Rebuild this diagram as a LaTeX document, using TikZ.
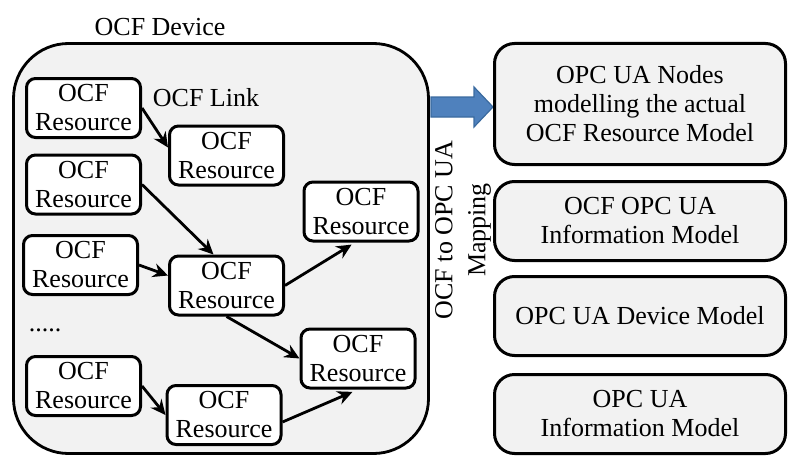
\documentclass[tikz,border=0pt]{standalone}
\usepackage{fontspec}
\setmainfont{Liberation Serif}
\usetikzlibrary{arrows.meta}
\definecolor{boxgray}{HTML}{F2F2F2}
\definecolor{mapblue}{HTML}{4F81BD}
\definecolor{mapedge}{HTML}{3A6A9F}
\tikzset{
	res/.style={draw, line width=3pt, rounded corners=9pt, fill=white,
		minimum width=114pt, minimum height=59pt, inner sep=0pt, align=center},
	uabox/.style={draw, line width=3pt, rounded corners=20pt, fill=boxgray,
		minimum width=291pt, minimum height=79pt, inner sep=0pt, align=center},
	link/.style={line width=2.8pt, -{Stealth[length=15pt,width=14pt,inset=5pt]}}
}
\begin{document}
\begin{tikzpicture}[x=1pt,y=-1pt,font=\fontsize{26}{29}\selectfont]
			\useasboundingbox (0,0) rectangle (805,460);
			% the OCF device
			\node[draw, line width=2.8pt, rounded corners=55pt, fill=boxgray,
				minimum width=415pt, minimum height=410pt] (dev) at (221,248.5) {};
			\node (devlabel) at (160,27) {OCF Device};
			\node (linklabel) at (206,98) {OCF Link};
			% resources
			\node[res] (resA) at (83.5,108) {OCF\\Resource};
			\node[res] (resB) at (226.5,155.5) {OCF\\Resource};
			\node[res] (resC) at (83.5,184.5) {OCF\\Resource};
			\node[res] (resD) at (361,211.5) {OCF\\Resource};
			\node[res] (resE) at (80.5,265) {OCF\\Resource};
			\node[res] (resF) at (226.5,285.5) {OCF\\Resource};
			\node[res] (resG) at (358,358.5) {OCF\\Resource};
			\node[res] (resH) at (83.5,386) {OCF\\Resource};
			\node[res] (resI) at (224,415) {OCF\\Resource};
			\node (dots) at (45,330) {.....};
			% links
			\draw[link] (resA.east) -- ([yshift=8pt]resB.west);
			\draw[link] (resC.east) -- ([xshift=-13pt]resF.north);
			\draw[link] (resE.east) -- ([yshift=10pt]resF.west);
			\draw[link, shorten >=4pt] (resF.east) -- ([xshift=-6pt]resD.south);
			\draw[link] (resF.south) -- (resG.west);
			\draw[link] (resH.east) -- (resI.west);
			\draw[link, shorten >=6pt] ([yshift=-7pt]resI.east) -- (resG.south);
			% mapping
			\filldraw[fill=mapblue, draw=mapedge, line width=1.2pt]
				(431,97) -- (474,97) -- (474,87) -- (493,107) -- (474,127)
				-- (474,117) -- (431,117) -- cycle;
			\node[rotate=90, align=center] (maplabel) at (463,230) {OCF to OPC UA\\[4pt]Mapping};
			% OPC UA side
			\node[uabox, minimum height=121pt] (uaNodes) at (640,104)
				{OPC UA Nodes\\modelling the actual\\OCF Resource Model};
			\node[uabox] (uaOcf) at (640,221) {OCF OPC UA\\Information Model};
			\node[uabox] (uaDev) at (640,316) {OPC UA Device Model};
			\node[uabox] (uaInfo) at (640,414) {OPC UA\\Information Model};
		\end{tikzpicture}
\end{document}
